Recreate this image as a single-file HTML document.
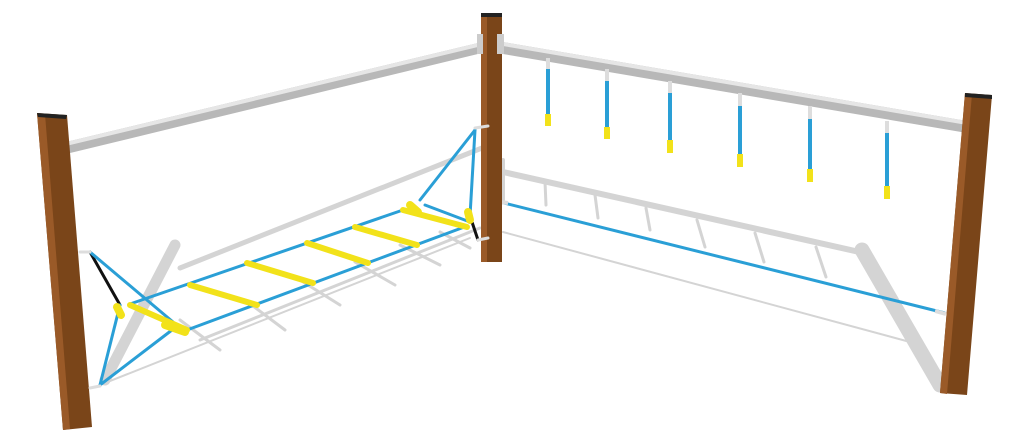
<!DOCTYPE html>
<html><head><style>html,body{margin:0;padding:0;background:#fff;}svg{display:block}</style></head>
<body>
<svg width="1024" height="439" viewBox="0 0 1024 439" xmlns="http://www.w3.org/2000/svg">
<g stroke="#d4d4d4" fill="none" stroke-linecap="round">
  <!-- left shadows -->
  <line x1="180" y1="268" x2="482" y2="148" stroke-width="5"/>
  <line x1="175" y1="245" x2="105" y2="380" stroke-width="11"/>
  <line x1="100" y1="385" x2="470" y2="238" stroke-width="2"/>
  <line x1="200" y1="340" x2="480" y2="228" stroke-width="3"/>
  <line x1="180" y1="320" x2="220" y2="350" stroke-width="3"/>
  <line x1="245" y1="300" x2="285" y2="330" stroke-width="3"/>
  <line x1="300" y1="280" x2="340" y2="305" stroke-width="3"/>
  <line x1="355" y1="262" x2="395" y2="285" stroke-width="3"/>
  <line x1="400" y1="245" x2="440" y2="265" stroke-width="3"/>
  <line x1="440" y1="232" x2="470" y2="248" stroke-width="3"/>
  <!-- right shadows -->
  <line x1="503" y1="172" x2="864" y2="253" stroke-width="6"/>
  <line x1="503" y1="160" x2="503" y2="200" stroke-width="4"/>
  <line x1="862" y1="250" x2="940" y2="385" stroke-width="15"/>
  <line x1="503" y1="232" x2="910" y2="342" stroke-width="2"/>
  <line x1="545" y1="182" x2="546" y2="205" stroke-width="3"/>
  <line x1="595" y1="195" x2="598" y2="218" stroke-width="3"/>
  <line x1="646" y1="208" x2="650" y2="230" stroke-width="3"/>
  <line x1="697" y1="220" x2="705" y2="247" stroke-width="3"/>
  <line x1="755" y1="233" x2="764" y2="262" stroke-width="3"/>
  <line x1="816" y1="247" x2="826" y2="277" stroke-width="3"/>
</g>
<!-- left top bar -->
<polygon points="66,142 482,42 482,53 66,154" fill="#b8b8b8"/>
<polygon points="66,142 482,42 482,46 66,146" fill="#e6e6e6"/>
<!-- right top bar -->
<polygon points="497,41 967,121 967,133 497,53" fill="#b8b8b8"/>
<polygon points="497,41 967,121 967,125 497,45" fill="#e6e6e6"/>
<!-- hangers -->
<g stroke-linecap="butt">
  <g stroke="#2a9fd6" stroke-width="4">
    <line x1="548" y1="68" x2="548" y2="115"/><line x1="607" y1="80" x2="607" y2="128"/>
    <line x1="670" y1="92" x2="670" y2="141"/><line x1="740" y1="105" x2="740" y2="155"/>
    <line x1="810" y1="118" x2="810" y2="170"/><line x1="887" y1="132" x2="887" y2="187"/>
  </g>
  <g stroke="#ddd" stroke-width="4">
    <line x1="548" y1="58" x2="548" y2="69"/><line x1="607" y1="69" x2="607" y2="81"/>
    <line x1="670" y1="81" x2="670" y2="93"/><line x1="740" y1="93" x2="740" y2="106"/>
    <line x1="810" y1="106" x2="810" y2="119"/><line x1="887" y1="121" x2="887" y2="133"/>
  </g>
  <g stroke="#f2e21a" stroke-width="6">
    <line x1="548" y1="114" x2="548" y2="126"/><line x1="607" y1="127" x2="607" y2="139"/>
    <line x1="670" y1="140" x2="670" y2="153"/><line x1="740" y1="154" x2="740" y2="167"/>
    <line x1="810" y1="169" x2="810" y2="182"/><line x1="887" y1="186" x2="887" y2="199"/>
  </g>
</g>
<!-- right lower rope -->
<line x1="500" y1="202" x2="945" y2="313" stroke="#2a9fd6" stroke-width="3"/>
<line x1="500" y1="202" x2="508" y2="203" stroke="#ddd" stroke-width="4"/>
<line x1="935" y1="311" x2="946" y2="314" stroke="#ddd" stroke-width="4"/>
<!-- posts -->
<polygon points="37,113 67,115 92,427 63,430" fill="#7a4519"/>
<polygon points="37,113 45,114 70,429 63,430" fill="#9a5a28"/>
<polygon points="37,113 67,115 66,119 38,117" fill="#222"/>
<rect x="481" y="13" width="21" height="249" fill="#7a4519"/>
<rect x="481" y="13" width="6" height="249" fill="#9a5a28"/>
<rect x="481" y="13" width="21" height="4" fill="#222"/>
<rect x="477" y="34" width="6" height="20" fill="#ccc"/><rect x="497" y="34" width="7" height="20" fill="#ccc"/>
<polygon points="965,93 992,95 967,395 940,393" fill="#7a4519"/>
<polygon points="965,93 972,94 947,394 940,393" fill="#9a5a28"/>
<polygon points="965,93 992,95 992,99 965,97" fill="#222"/>
<!-- left ladder ropes -->
<g stroke-linecap="round" fill="none">
  <line x1="90" y1="252" x2="120" y2="305" stroke="#111" stroke-width="3"/>
  <g stroke="#2a9fd6" stroke-width="3">
    <line x1="90" y1="252" x2="173" y2="322"/>
    <line x1="120" y1="305" x2="100" y2="385"/>
    <line x1="172" y1="330" x2="100" y2="385"/>
    <line x1="475" y1="130" x2="420" y2="200"/>
    <line x1="475" y1="130" x2="470" y2="216"/>
    <line x1="425" y1="205" x2="470" y2="222"/>
    <line x1="130" y1="304" x2="403" y2="210"/>
    <line x1="187" y1="330" x2="467" y2="226"/>
  </g>
  <line x1="470" y1="216" x2="478" y2="240" stroke="#111" stroke-width="3"/>
  <g stroke="#f2e21a" stroke-width="6">
    <line x1="190" y1="285" x2="257" y2="305"/>
    <line x1="247" y1="263" x2="313" y2="283"/>
    <line x1="307" y1="243" x2="368" y2="263"/>
    <line x1="355" y1="227" x2="417" y2="245"/>
    <line x1="403" y1="210" x2="467" y2="227"/>
    <line x1="130" y1="305" x2="187" y2="330"/>
  </g>
  <g stroke="#f2e21a" stroke-width="8">
    <line x1="117" y1="307" x2="121" y2="315"/>
    <line x1="165" y1="325" x2="185" y2="332"/>
    <line x1="410" y1="205" x2="418" y2="212"/>
    <line x1="468" y1="212" x2="470" y2="220"/>
  </g>
  <line x1="80" y1="252" x2="90" y2="252" stroke="#ddd" stroke-width="3"/>
  <line x1="90" y1="388" x2="100" y2="386" stroke="#ddd" stroke-width="3"/>
  <line x1="475" y1="128" x2="488" y2="126" stroke="#ddd" stroke-width="3"/>
  <line x1="478" y1="240" x2="488" y2="238" stroke="#ddd" stroke-width="3"/>
</g>
</svg>
</body></html>
